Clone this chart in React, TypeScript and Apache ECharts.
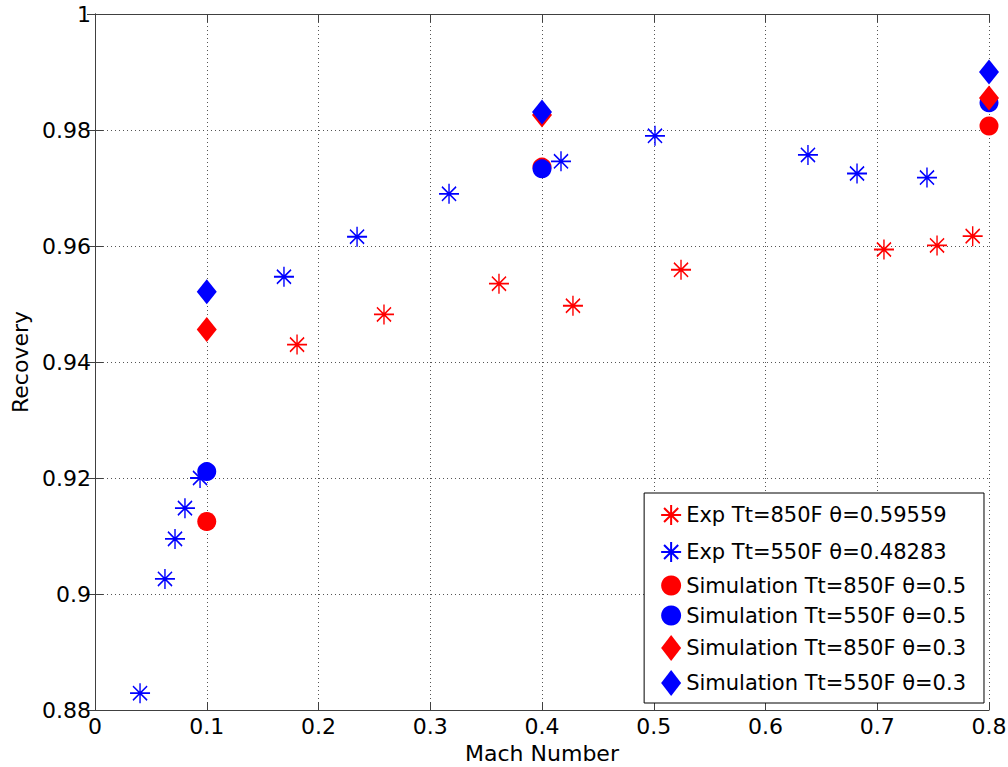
import React, { useEffect, useRef } from "react";
import * as echarts from "echarts";

// Experimental recovery factor vs Mach number
const exp850Mach = [0.1808, 0.2586, 0.3615, 0.4277, 0.5244, 0.706, 0.7535, 0.7854];
const exp850Rec = [0.943, 0.9482, 0.9535, 0.9497, 0.9559, 0.9594, 0.9601, 0.9617];

const exp550Mach = [0.0403, 0.0626, 0.0716, 0.0805, 0.094, 0.1691, 0.2345, 0.3168, 0.417, 0.5011, 0.638, 0.6819, 0.7445];
const exp550Rec = [0.8829, 0.9026, 0.9095, 0.9148, 0.92, 0.9547, 0.9616, 0.969, 0.9746, 0.979, 0.9757, 0.9725, 0.9718];

// Simulation results
const simMach = [0.1, 0.4, 0.8];
const sim850Theta05 = [0.9125, 0.9736, 0.9807];
const sim550Theta05 = [0.9211, 0.9733, 0.9847];
const sim850Theta03 = [0.9456, 0.9826, 0.9855];
const sim550Theta03 = [0.9521, 0.9831, 0.99];

const seriesNames = [
  "Exp Tt=850F θ=0.59559",
  "Exp Tt=550F θ=0.48283",
  "Simulation Tt=850F θ=0.5",
  "Simulation Tt=550F θ=0.5",
  "Simulation Tt=850F θ=0.3",
  "Simulation Tt=550F θ=0.3",
];

const RED = "#ff0000";
const BLUE = "#0000ff";
const FONT = "DejaVu Sans";

// eight-spoke asterisk, the leading moves widen its box to 20x26
const ASTERISK =
  "path://M0 0M20 26M0 13L20 13M10 3L10 23M2.93 5.93L17.07 20.07M17.07 5.93L2.93 20.07";

const zip = (xs: number[], ys: number[]) => xs.map((x, i) => [x, ys[i]]);

const fmt = (v: number) => String(parseFloat(v.toFixed(2)));

export default function App() {
  const ref = useRef<HTMLDivElement>(null);

  useEffect(() => {
    if (!ref.current) return;
    const chart = echarts.init(ref.current, undefined, { renderer: "svg" });

    const frame = { lineStyle: { color: "#404040", width: 1 } };
    const tick = { show: true, inside: true, length: 8, lineStyle: { color: "#404040" } };
    const gridLine = { show: true, lineStyle: { color: "#555", type: [1, 3] as number[], width: 1 } };
    const labelStyle = { fontFamily: FONT, fontSize: 22, color: "#000" };

    const scatter = (
      name: string,
      data: number[][],
      symbol: string,
      size: number | number[],
      color: string,
      stroke = false
    ) => ({
      type: "scatter",
      name,
      data,
      symbol,
      symbolSize: size,
      clip: false,
      itemStyle: stroke
        ? { color, borderColor: color, borderWidth: 1.6, opacity: 1 }
        : { color, opacity: 1 },
      emphasis: { disabled: true },
    });

    chart.setOption({
      animation: false,
      backgroundColor: "#fff",
      grid: { left: 95, right: 19, top: 14, bottom: 57, outerBoundsMode: "none" },
      legend: {
        orient: "vertical",
        right: 24,
        bottom: 64,
        data: seriesNames,
        itemWidth: 20,
        itemHeight: 26,
        itemGap: 9,
        padding: [8, 18, 7, 16],
        backgroundColor: "#fff",
        borderColor: "#000",
        borderWidth: 1,
        borderRadius: 0,
        textStyle: { fontFamily: FONT, fontSize: 21, color: "#000" },
      },
      xAxis: [
        {
          type: "value",
          min: 0,
          max: 0.8,
          interval: 0.1,
          name: "Mach Number",
          nameLocation: "middle",
          nameGap: 32,
          nameTextStyle: { fontFamily: FONT, fontSize: 22, color: "#000" },
          axisLine: { show: true, ...frame },
          axisTick: tick,
          axisLabel: { ...labelStyle, margin: 5, formatter: fmt },
          splitLine: gridLine,
        },
        {
          type: "value",
          position: "top",
          min: 0,
          max: 0.8,
          interval: 0.1,
          axisLine: { show: true, ...frame },
          axisTick: tick,
          axisLabel: { show: false },
          splitLine: { show: false },
        },
      ],
      yAxis: [
        {
          type: "value",
          min: 0.88,
          max: 1,
          interval: 0.02,
          name: "Recovery",
          nameLocation: "middle",
          nameGap: 56,
          nameTextStyle: { fontFamily: FONT, fontSize: 22, color: "#000" },
          axisLine: { show: true, ...frame },
          axisTick: tick,
          axisLabel: { ...labelStyle, margin: 4, formatter: fmt },
          splitLine: gridLine,
        },
        {
          type: "value",
          position: "right",
          min: 0.88,
          max: 1,
          interval: 0.02,
          axisLine: { show: true, ...frame },
          axisTick: tick,
          axisLabel: { show: false },
          splitLine: { show: false },
        },
      ],
      series: [
        scatter(seriesNames[0], zip(exp850Mach, exp850Rec), ASTERISK, [20, 26], RED, true),
        scatter(seriesNames[1], zip(exp550Mach, exp550Rec), ASTERISK, [20, 26], BLUE, true),
        scatter(seriesNames[2], zip(simMach, sim850Theta05), "circle", 19, RED),
        scatter(seriesNames[3], zip(simMach, sim550Theta05), "circle", 19, BLUE),
        scatter(seriesNames[4], zip(simMach, sim850Theta03), "diamond", [20, 25], RED),
        scatter(seriesNames[5], zip(simMach, sim550Theta03), "diamond", [20, 25], BLUE),
      ],
    });

    return () => chart.dispose();
  }, []);

  return (
    <div
      ref={ref}
      style={{ position: "fixed", left: 0, top: 0, width: 1008, height: 767, background: "#fff" }}
    />
  );
}
